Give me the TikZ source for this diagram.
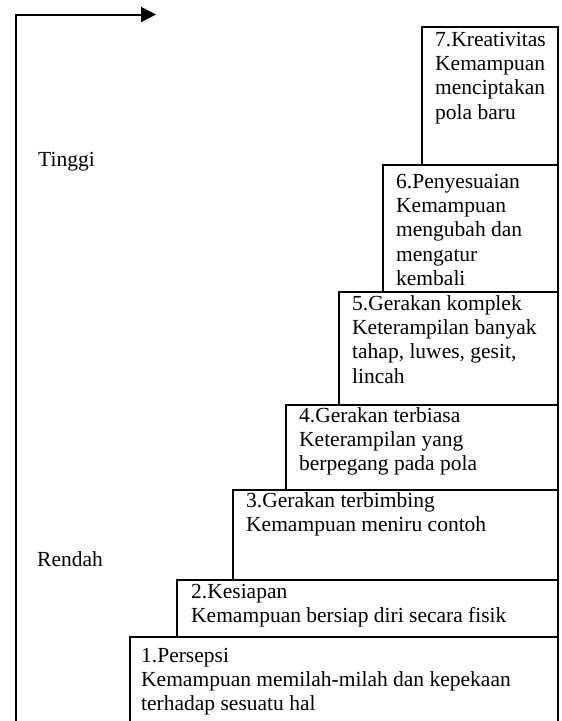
\documentclass[tikz,border=0pt]{standalone}
\usepackage{fontspec}
\setmainfont{Liberation Serif}
\usetikzlibrary{arrows.meta}
\tikzset{
  stage/.style={draw=black, line width=2pt},
  stagetext/.style={anchor=base west, inner sep=0pt, align=left,
    font=\fontsize{21.5}{24.4}\selectfont},
  axislabel/.style={anchor=base west, inner sep=0pt,
    font=\fontsize{21.5}{24.4}\selectfont},
  axis/.style={line width=2pt, -{Triangle[length=15pt,width=15pt]}}
}
\begin{document}
\begin{tikzpicture}[x=1pt,y=-1pt]
\path[use as bounding box, clip] (0,0) rectangle (562,721);
% boxes
\draw[stage] (130,637) rectangle (558,740);
\draw[stage] (177,580) rectangle (558,637);
\draw[stage] (233,490) rectangle (558,580);
\draw[stage] (286,405) rectangle (558,490);
\draw[stage] (339,292) rectangle (558,405);
\draw[stage] (383,165) rectangle (558,292);
\draw[stage] (422,27) rectangle (558,165);
% texts (anchor = baseline of the last line)
\node[stagetext] (t7) at (435,119.2) {7.Kreativitas\\Kemampuan\\menciptakan\\pola baru};
\node[stagetext] (t6) at (396,285.6) {6.Penyesuaian\\Kemampuan\\mengubah dan\\mengatur\\kembali};
\node[stagetext] (t5) at (352,383.2) {5.Gerakan komplek\\Keterampilan banyak\\tahap, luwes, gesit,\\lincah};
\node[stagetext] (t4) at (299,470.8) {4.Gerakan terbiasa\\Keterampilan yang\\berpegang pada pola};
\node[stagetext] (t3) at (246,531.4) {3.Gerakan terbimbing\\Kemampuan meniru contoh};
\node[stagetext] (t2) at (191,622.4) {2.Kesiapan\\Kemampuan bersiap diri secara fisik};
\node[stagetext] (t1) at (141,710.8) {1.Persepsi\\Kemampuan memilah-milah dan kepekaan\\terhadap sesuatu hal};
% axis
\coordinate (abottom) at (16,721);
\coordinate (acorner) at (16,14.5);
\coordinate (atip) at (156,14.5);
\draw[axis] (abottom) -- (acorner) -- (atip);
\node[axislabel] (tinggi) at (38,166) {Tinggi};
\node[axislabel] (rendah) at (37,566) {Rendah};
\end{tikzpicture}
\end{document}
